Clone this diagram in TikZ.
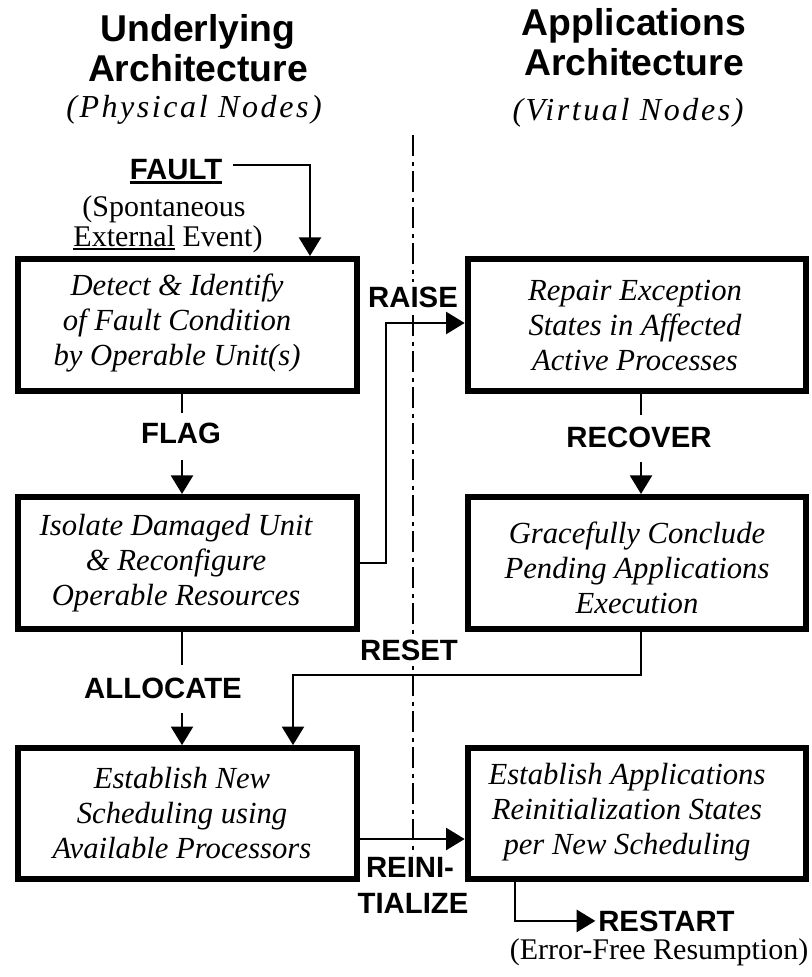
\documentclass[tikz,border=0pt]{standalone}
\usepackage{fontspec}
\setmainfont{Liberation Serif}
\setsansfont{Liberation Sans}
\usetikzlibrary{arrows.meta,calc}

% text with a heavy underline: #1 = rule offset from baseline, #2 = thickness
\newsavebox{\ulbox}
\newcommand{\thickul}[3]{\sbox{\ulbox}{#3}\rlap{\rule[#1]{\wd\ulbox}{#2}}\usebox{\ulbox}}

\begin{document}
\begin{tikzpicture}[x=0.75pt,y=-0.75pt,
  procbox/.style={draw,line width=4.5pt,minimum width=254pt,minimum height=99pt,inner sep=0pt},
  boxtext/.style={align=center,inner sep=0pt,font=\fontsize{23}{26.25}\selectfont\itshape},
  flowlabel/.style={inner sep=0pt,anchor=base,font=\fontsize{22}{26}\selectfont\sffamily\bfseries},
  masked/.style={fill=white,inner xsep=3pt,inner ysep=4pt},
  headline/.style={inner sep=0pt,anchor=base,font=\fontsize{28}{30}\selectfont\sffamily\bfseries},
  subhead/.style={inner sep=0pt,anchor=base,font=\fontsize{24}{28}\selectfont\itshape\addfontfeatures{LetterSpace=8}},
  notetext/.style={inner sep=0pt,anchor=base,font=\fontsize{22.5}{26}\selectfont},
  conn/.style={line width=2pt},
  arr/.style={conn,-{Triangle[length=14pt,width=16.5pt]}},
  midline/.style={line width=0.8pt,dash pattern=on 16pt off 4pt on 3pt off 4pt}]

\useasboundingbox (0,0) rectangle (811,977);
\fill[white] (0,0) rectangle (811,977);

% column headings
\node[headline] (tl1) at (198,41.4) {Underlying};
\node[headline] (tl2) at (198,81.4) {Architecture};
\node[headline] (tr1) at (634,35.4) {Applications};
\node[headline] (tr2) at (634,75.4) {Architecture};
\node[subhead] (sl) at (194,118) {(Physical Nodes)};
\node[subhead] (sr) at (628,121) {(Virtual Nodes)};

% dash-dot divider between the two architectures
\coordinate (axtop) at (413,135);
\coordinate (axbot) at (413,855);
\draw[midline] (axtop) -- (axbot);

% process boxes
\node[procbox] (b1) at (187.5,325) {};
\node[procbox] (b2) at (187.5,563) {};
\node[procbox,minimum height=98pt] (b3) at (187.5,813.5) {};
\node[procbox] (r1) at (637,325) {};
\node[procbox] (r2) at (637,563) {};
\node[procbox,minimum height=98pt] (r3) at (637,813.5) {};

\node[boxtext] (t1) at (177,323) {Detect \& Identify\\of Fault Condition\\by Operable Unit(s)};
\node[boxtext] (t2) at (176,563) {Isolate Damaged Unit\\\& Reconfigure\\Operable Resources};
\node[boxtext] (t3) at (182,813) {Establish New\\Scheduling using\\Available Processors};
\node[boxtext] (u1) at (635,325) {Repair Exception\\States in Affected\\Active Processes};
\node[boxtext] (u2) at (637,568) {Gracefully Conclude\\Pending Applications\\Execution};
\node[boxtext] (u3) at (627,812) {Establish Applications\\Reinitialization States\\per New Scheduling};

% labels
\node[flowlabel] (fault) at (176,179.5) {\thickul{-3.75pt}{2.4pt}{FAULT}};
\node[notetext] (sp1) at (164,216) {(Spontaneous};
\node[notetext] (sp2) at (168,246) {\thickul{-3pt}{1.3pt}{External} Event)};
\node[flowlabel,masked] (raise) at (413,307.5) {RAISE};
\node[flowlabel] (flag) at (181,443.5) {FLAG};
\node[flowlabel] (recover) at (639,447.5) {RECOVER};
\node[flowlabel,masked] (reset) at (409,660.5) {RESET};
\node[flowlabel] (allocate) at (163,698.5) {ALLOCATE};
\node[flowlabel] (reini1) at (410,877.5) {REINI-};
\node[flowlabel] (reini2) at (413,913.5) {TIALIZE};
\node[flowlabel,anchor=base west] (restart) at (598,931) {RESTART};
\node[notetext] (efr) at (659,959) {(Error-Free Resumption)};

% connector columns and break points
\coordinate (lc) at (182,0);
\coordinate (rc) at (641,0);
\coordinate (fc) at (310,0);
\coordinate (f0) at (233,165);
\coordinate (flagtop) at (182,413);
\coordinate (flagbot) at (182,460);
\coordinate (rectop) at (641,415);
\coordinate (recbot) at (641,462);
\coordinate (alltop) at (182,665);
\coordinate (allbot) at (182,713);
\coordinate (rz) at (386,323);
\coordinate (rsx) at (293,675);
\coordinate (ri) at (0,839);
\coordinate (rs) at (515,0);

% connectors
\draw[arr] (f0) -| (fc |- b1.north);
\draw[conn] (b1.south -| lc) -- (flagtop);
\draw[arr] (flagbot) -- (b2.north -| lc);
\draw[arr] (b2.east) -| (rz) -- (rz -| r1.west);
\draw[conn] (r1.south -| rc) -- (rectop);
\draw[arr] (recbot) -- (r2.north -| rc);
\draw[conn] (b2.south -| lc) -- (alltop);
\draw[arr] (allbot) -- (b3.north -| lc);
\draw[arr] (r2.south -| rc) |- (rsx) -- (rsx |- b3.north);
\draw[arr] (b3.east |- ri) -- (r3.west |- ri);
\draw[arr] (r3.south -| rs) |- ([xshift=-2pt]restart.west);

\end{tikzpicture}
\end{document}
